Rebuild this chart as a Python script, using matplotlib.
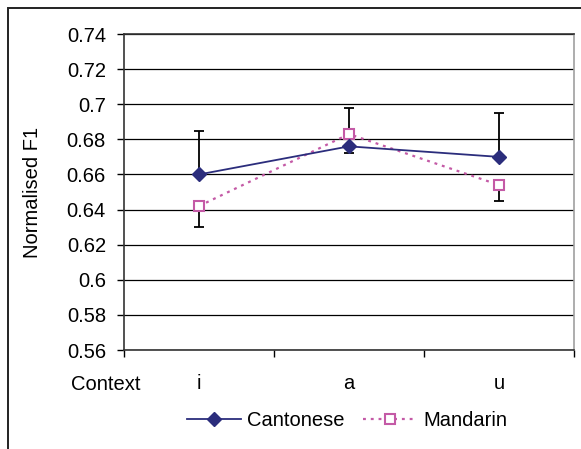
import matplotlib
matplotlib.use("Agg")
import matplotlib.pyplot as plt
from matplotlib.patches import Rectangle
import numpy as np

plt.rcParams['font.family'] = ['Liberation Sans', 'DejaVu Sans']

contexts = ['i', 'a', 'u']
cantonese = [0.660, 0.676, 0.670]
cantonese_err = [0.025, 0.022, 0.025]   # drawn upwards only
mandarin = [0.642, 0.683, 0.654]
mandarin_err = [0.012, 0.011, 0.009]    # drawn downwards only
yticks = [0.56, 0.58, 0.6, 0.62, 0.64, 0.66, 0.68, 0.7, 0.72, 0.74]
ytick_labels = ['0.56', '0.58', '0.6', '0.62', '0.64', '0.66', '0.68', '0.7', '0.72', '0.74']

FS = 14.5
NAVY = '#2b2d7c'
PINK = '#c45aa6'

W, H = 581, 449
fig = plt.figure(figsize=(W / 100, H / 100), dpi=100)
ax = fig.add_axes([124 / W, 1 - 350 / H, 450 / W, 316 / H])

# outer chart frame (runs off the right and bottom edges)
fig.patches.append(Rectangle((8 / W, -0.1), 1.2, 1 - 8 / H + 0.1,
                             transform=fig.transFigure, fill=False,
                             edgecolor='#222222', linewidth=1.4))

x = np.arange(len(contexts))

ax.errorbar(x, cantonese, yerr=[np.zeros(3), cantonese_err], fmt='none',
            ecolor='black', elinewidth=1.3, capsize=3.6, capthick=1.3, zorder=3)
ax.errorbar(x, mandarin, yerr=[mandarin_err, np.zeros(3)], fmt='none',
            ecolor='black', elinewidth=1.3, capsize=3.6, capthick=1.3, zorder=3)

ax.plot(x, cantonese, color=NAVY, lw=1.3, marker='D', ms=7.5,
        mfc=NAVY, mec=NAVY, label='Cantonese', zorder=5)
ax.plot(x, mandarin, color=PINK, lw=1.6, ls=(0, (1.3, 2.2)), marker='s', ms=7,
        mfc='white', mec=PINK, mew=1.5, label='Mandarin', zorder=4)

ax.set_xlim(-0.5, 2.5)
ax.set_ylim(0.56, 0.74)
ax.set_yticks(yticks)
ax.set_yticklabels(ytick_labels, fontsize=FS)
ax.yaxis.grid(True, color='black', lw=0.9)
ax.set_axisbelow(True)

ax.set_xticks(x)
ax.set_xticklabels(contexts, fontsize=FS)
ax.set_xticks([-0.5, 0.5, 1.5, 2.5], minor=True)
ax.tick_params(axis='x', which='major', length=0, pad=17)
ax.tick_params(axis='x', which='minor', length=5, width=1, direction='out')
ax.tick_params(axis='y', length=5, width=1, direction='out', pad=8)

for s in ['left', 'bottom', 'top']:
    ax.spines[s].set_color('#333333')
    ax.spines[s].set_linewidth(1.2)
ax.spines['right'].set_color('#a0a0a0')
ax.spines['right'].set_linewidth(1.2)

fig.text(33 / W, 1 - 192 / H, 'Normalised F1', rotation=90, fontsize=FS,
         ha='center', va='center')
fig.text(106 / W, 1 - 384 / H, 'Context', fontsize=FS, ha='center', va='center')

fig.legend(loc='center', bbox_to_anchor=(347 / W, 1 - 421 / H), ncol=2,
           frameon=False, fontsize=FS, handlelength=2.7, handletextpad=0.3,
           columnspacing=0.9)

fig.savefig('out.png', dpi=100)
